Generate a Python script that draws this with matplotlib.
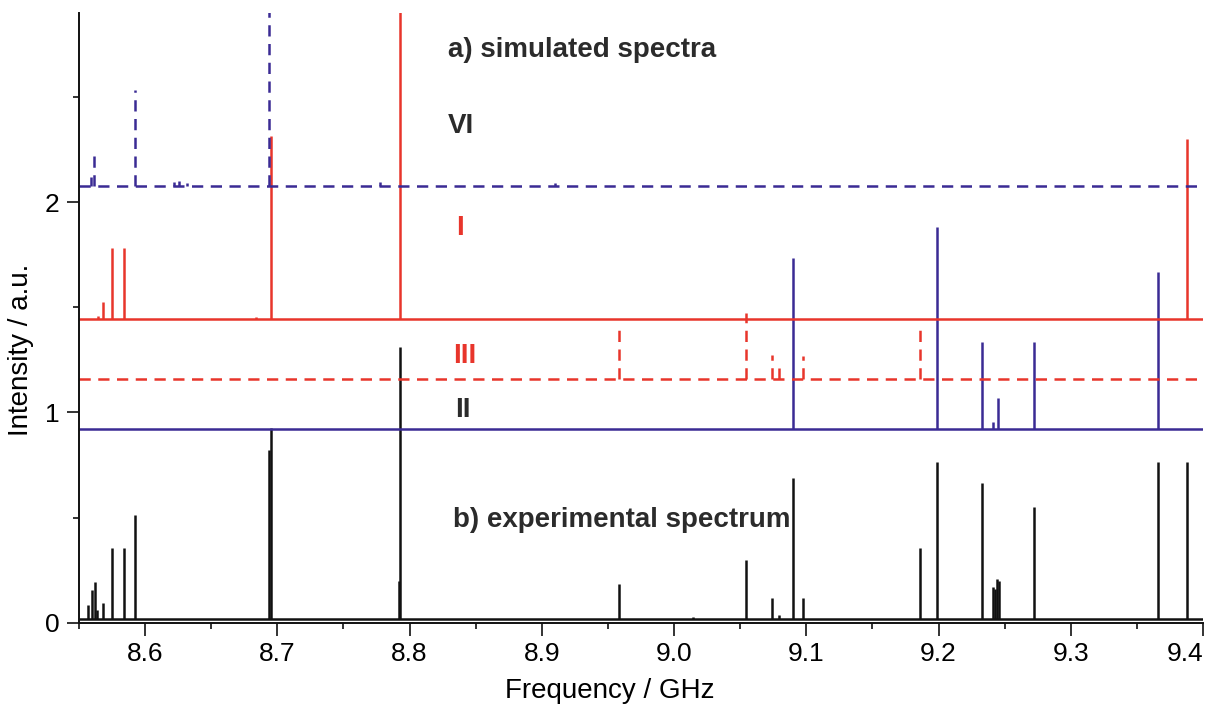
import numpy as np
import matplotlib
matplotlib.use('Agg')
import matplotlib.pyplot as plt
from matplotlib.ticker import MultipleLocator

plt.rcParams['font.family'] = ['Liberation Sans', 'DejaVu Sans']

# ── stick spectra (freq in GHz, top of each line in a.u.) ──
# VI: simulated, dashed blue
vi_freq = [8.5590, 8.5610, 8.5924, 8.6215, 8.6260, 8.6320, 8.6940, 8.7780, 8.9100]
vi_top  = [2.12, 2.24, 2.53, 2.095, 2.10, 2.09, 3.20, 2.095, 2.09]
vi_base = 2.078

# I: simulated, solid red
i_freq = [8.5640, 8.5685, 8.5748, 8.5843, 8.6840, 8.6950, 8.7928, 9.3880]
i_top  = [1.457, 1.526, 1.78, 1.78, 1.452, 2.314, 3.20, 2.30]
i_base = 1.444

# III: simulated, dashed red
iii_freq = [8.9587, 9.0542, 9.0743, 9.0794, 9.0976, 9.1860]
iii_top  = [1.408, 1.471, 1.273, 1.21, 1.27, 1.392]
iii_base = 1.157

# II: simulated, solid blue
ii_freq = [9.0900, 9.1991, 9.2327, 9.2415, 9.2447, 9.2725, 9.3662]
ii_top  = [1.734, 1.88, 1.333, 0.956, 1.067, 1.333, 1.667]
ii_base = 0.922

# experimental spectrum, black
exp_freq = [8.5569, 8.5599, 8.5622, 8.5637, 8.5682, 8.5748, 8.5843, 8.5924,
            8.6938, 8.6953, 8.7920, 8.7928, 8.9584, 9.0141, 9.0541, 9.0743,
            9.0790, 9.0900, 9.0976, 9.1860, 9.1991, 9.2327, 9.2412, 9.2425,
            9.2440, 9.2455, 9.2725, 9.3662, 9.3877]
exp_top  = [0.084, 0.155, 0.195, 0.06, 0.094, 0.354, 0.358, 0.515,
            0.821, 0.924, 0.20, 1.31, 0.187, 0.03, 0.30, 0.119,
            0.04, 0.688, 0.12, 0.354, 0.763, 0.663, 0.171, 0.16,
            0.211, 0.20, 0.549, 0.763, 0.763]
exp_base = 0.02

x_lim = (8.55, 9.4)
y_lim = (0.0, 2.898)

RED = '#e8352b'
BLUE = '#3a2b94'
BLACK = '#111111'
GREY = '#2b2b2b'
DASH = (0, (4.5, 3))


def draw_sticks(ax, freqs, tops, base, color, ls='-'):
    """Baseline across the axis plus a vertical stick up to each peak top."""
    ax.hlines(base, *x_lim, colors=color, lw=1.8, linestyles=ls)
    ax.vlines(freqs, base, tops, colors=color, lw=1.8, linestyles=ls)


fig = plt.figure(figsize=(12.06, 7.04), dpi=100)
ax = fig.add_axes([0.0655, 0.1151, 0.9320, 0.8664])

draw_sticks(ax, exp_freq, exp_top, exp_base, BLACK)
draw_sticks(ax, ii_freq, ii_top, ii_base, BLUE)
draw_sticks(ax, iii_freq, iii_top, iii_base, RED, DASH)
draw_sticks(ax, i_freq, i_top, i_base, RED)
draw_sticks(ax, vi_freq, vi_top, vi_base, BLUE, DASH)

# ── labels inside the plot ────────────────────────────────────────────────────
ax.text(8.829, 2.723, 'a) simulated spectra', fontsize=20, fontweight='bold',
        color=GREY, ha='left', va='center')
ax.text(8.829, 2.362, 'VI', fontsize=20, fontweight='bold', color=GREY,
        ha='left', va='center')
ax.text(8.838, 1.876, 'I', fontsize=20, fontweight='bold', color=RED,
        ha='center', va='center')
ax.text(8.842, 1.268, 'III', fontsize=20, fontweight='bold', color=RED,
        ha='center', va='center')
ax.text(8.840, 1.012, 'II', fontsize=20, fontweight='bold', color=GREY,
        ha='center', va='center')
ax.text(8.833, 0.488, 'b) experimental spectrum', fontsize=20,
        fontweight='bold', color=GREY, ha='left', va='center')

# ── axes styling ──────────────────────────────────────────────────────────────
ax.set_xlim(*x_lim)
ax.set_ylim(*y_lim)
ax.spines['top'].set_visible(False)
ax.spines['right'].set_visible(False)
for s in ('left', 'bottom'):
    ax.spines[s].set_linewidth(1.4)
    ax.spines[s].set_color(BLACK)

ax.xaxis.set_major_locator(MultipleLocator(0.1))
ax.xaxis.set_minor_locator(MultipleLocator(0.05))
ax.yaxis.set_major_locator(MultipleLocator(1))
ax.yaxis.set_minor_locator(MultipleLocator(0.5))
ax.xaxis.set_major_formatter(plt.FormatStrFormatter('%.1f'))
ax.tick_params(which='major', direction='out', length=9, width=1.2,
               labelsize=19, pad=5, color=BLACK)
ax.tick_params(which='minor', direction='out', length=4.5, width=1.2,
               color=BLACK)

ax.set_xlabel('Frequency / GHz', fontsize=20)
ax.set_ylabel('Intensity / a.u.', fontsize=20)
ax.xaxis.set_label_coords(0.472, -0.09)
ax.yaxis.set_label_coords(-0.04, 0.4475)

# the last x label sits left of its tick so it stays inside the figure
fig.canvas.draw()
xlabels = ax.get_xticklabels()
for lab in xlabels:
    if lab.get_text() == '9.4':
        lab.set_horizontalalignment('right')
        lab.set_x(lab.get_position()[0])

fig.savefig('out.png', dpi=100)
